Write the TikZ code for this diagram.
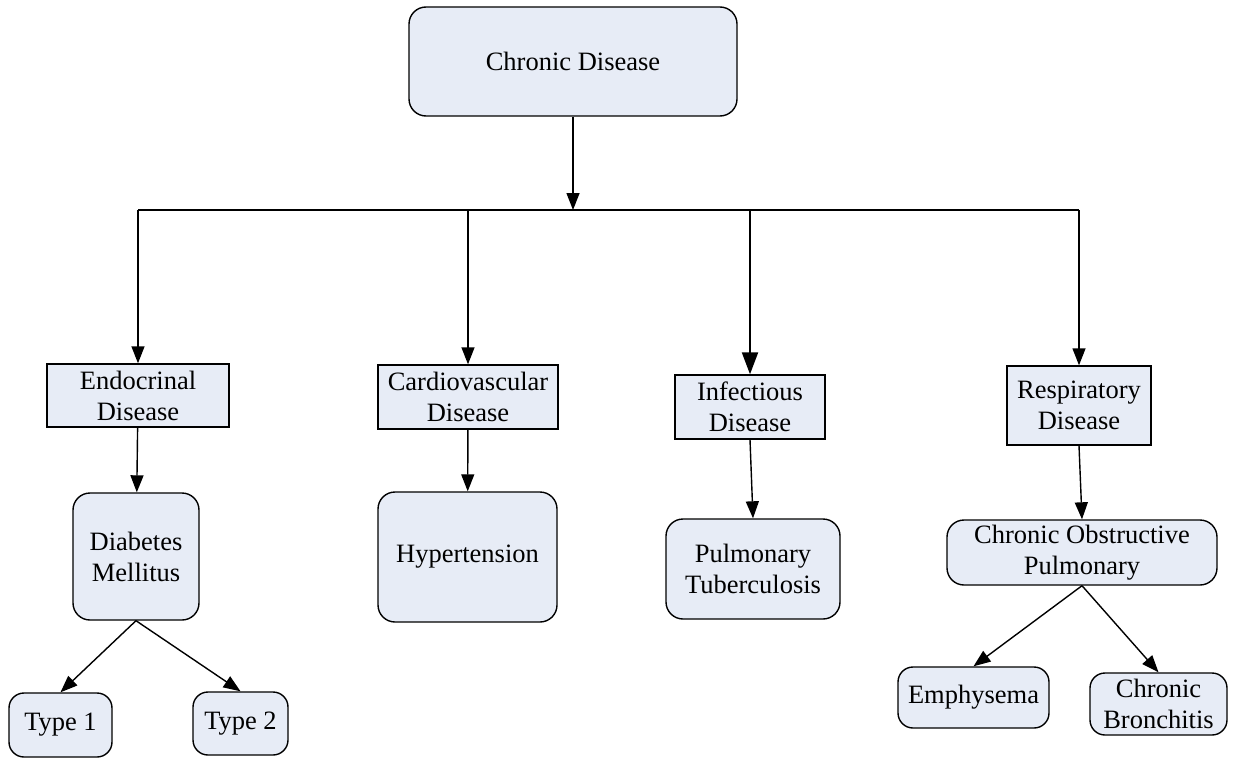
\documentclass[tikz,border=0pt]{standalone}
\usepackage{fontspec}
\setmainfont{Liberation Serif}
\usetikzlibrary{arrows.meta}
\definecolor{boxfill}{RGB}{231,236,246}
\tikzset{
  base/.style={draw=black, fill=boxfill, line width=1.4pt, align=center,
    inner sep=0pt, font=\fontsize{26.5}{31}\selectfont},
  rbox/.style={base, rounded corners=17pt},
  sbox/.style={base, rounded corners=0pt},
  arr/.style={line width=1.4pt, -{Triangle[length=17pt,width=13pt]}},
  bigarr/.style={line width=2.2pt, -{Triangle[length=22pt,width=16pt]}},
  bus/.style={line width=2pt},
}
\begin{document}
\begin{tikzpicture}[x=1pt,y=-1pt]
\useasboundingbox (0,0) rectangle (1233,757);

% root
\node[rbox, minimum width=328pt, minimum height=109pt] (root) at (573,61.5) {Chronic Disease};

% category boxes
\node[sbox, minimum width=182pt, minimum height=63pt] (endo) at (138,395.5) {Endocrinal\\Disease};
\node[sbox, minimum width=180pt, minimum height=64pt] (cardio) at (468,397) {Cardiovascular\\Disease};
\node[sbox, minimum width=150pt, minimum height=64pt] (infect) at (750,407) {Infectious\\Disease};
\node[sbox, minimum width=144pt, minimum height=79pt] (resp) at (1079,405.5) {Respiratory\\Disease};

% diseases
\node[rbox, minimum width=126pt, minimum height=127pt] (diab) at (136,556.5) {Diabetes\\Mellitus};
\node[rbox, minimum width=179pt, minimum height=130pt] (hyper) at (467.5,557) {Hypertension};
\node[rbox, minimum width=174pt, minimum height=100pt] (pulm) at (753,569) {Pulmonary\\Tuberculosis};
\node[rbox, minimum width=270pt, minimum height=65pt] (copd) at (1082,552.5) {Chronic Obstructive\\Pulmonary};

% subtypes
\node[rbox, rounded corners=15pt, minimum width=103pt, minimum height=64pt] (type1) at (60.5,725) {Type 1};
\node[rbox, rounded corners=15pt, minimum width=95pt, minimum height=63pt] (type2) at (240.5,723.5) {Type 2};
\node[rbox, rounded corners=15pt, minimum width=151pt, minimum height=61pt] (emph) at (973.5,697.5) {Emphysema};
\node[rbox, rounded corners=15pt, minimum width=137pt, minimum height=62pt] (bronch) at (1158.5,704) {Chronic\\Bronchitis};

% distribution bus
\coordinate (busC) at (573,210);
\coordinate (busE) at (138,210);
\coordinate (busCa) at (468,210);
\coordinate (busI) at (750,210);
\coordinate (busR) at (1079,210);

\draw[bus] (busE) -- (busR);
\draw[arr] (root) -- (busC);
\draw[arr] (busE) -- (endo);
\draw[arr] (busCa) -- (cardio);
\draw[bigarr] (busI) -- (infect);
\draw[arr] (busR) -- (resp);

% category to disease
\draw[arr] (endo) -- (diab);
\draw[arr] (cardio) -- (hyper);
\draw[arr] (infect.south) -- (pulm.north);
\draw[arr] (resp.south) -- (copd.north);

% disease to subtype
\draw[arr] (diab.south) -- (type1.north);
\draw[arr] (diab.south) -- (type2.north);
\draw[arr] (copd.south) -- (emph.north);
\draw[arr] (copd.south) -- (bronch.north);
\end{tikzpicture}
\end{document}
